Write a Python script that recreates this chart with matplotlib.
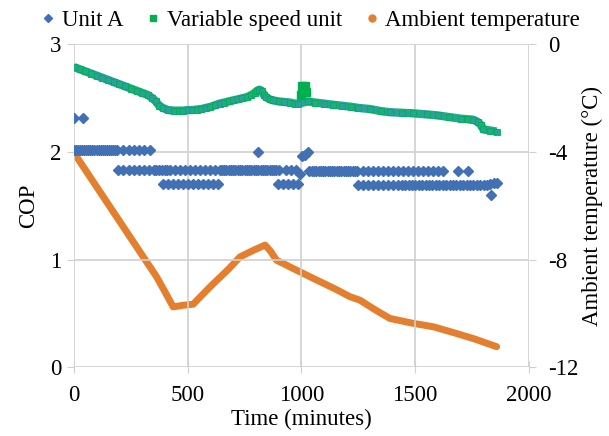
import numpy as np
import matplotlib
matplotlib.use('Agg')
import matplotlib.pyplot as plt
from matplotlib.lines import Line2D

plt.rcParams['font.family'] = ['Liberation Serif', 'DejaVu Serif']
plt.rcParams['font.size'] = 16.5
plt.rcParams['axes.unicode_minus'] = False

ua_hi_t = [0, 9, 18, 27, 36, 45, 54, 63, 72, 81, 90, 99, 108, 117, 126, 135, 144,
           153, 162, 171, 180, 190, 217, 240, 262, 285, 308, 332]
ua_hi_cop = 2.02
ua_mid1_t = [195, 217, 240, 262, 285, 308, 330, 350, 362, 374, 386, 398, 410, 422,
             444, 466, 488, 510, 532, 554, 576, 598, 620, 640, 650, 660, 670, 680,
             690, 700, 710, 720, 730, 740, 750, 760, 770, 780, 790, 800, 810, 820,
             830, 840, 850, 860, 870, 880, 890, 900, 931, 953, 975]
ua_mid1_cop = 1.83
ua_low1_t = [391, 413, 435, 457, 479, 501, 523, 545, 567, 589, 611, 633,
             897, 919, 941, 963, 985]
ua_low1_cop = 1.70
ua_mid2_t = [1035, 1045, 1055, 1065, 1075, 1085, 1095, 1105, 1115, 1125, 1135, 1145,
             1155, 1165, 1175, 1185, 1195, 1205, 1215, 1225, 1235, 1245, 1272, 1294,
             1316, 1338, 1360, 1382, 1404, 1426, 1448, 1470, 1492, 1514, 1536, 1558,
             1580, 1602, 1624, 1688, 1732]
ua_mid2_cop = 1.82
ua_low2_t = [1250, 1272, 1294, 1316, 1338, 1360, 1382, 1404, 1426, 1441, 1456, 1471,
             1486, 1501, 1516, 1531, 1546, 1561, 1576, 1591, 1606, 1621, 1636, 1651,
             1666, 1681, 1696, 1711, 1726, 1741, 1756, 1771, 1786, 1801, 1816]
ua_low2_cop = 1.69
ua_extra_t = [0, 40, 809, 995, 1001, 1015, 1029, 1832, 1830, 1845, 1858]
ua_extra_cop = [2.32, 2.32, 2.00, 1.80, 1.96, 1.97, 2.00, 1.60, 1.70, 1.71, 1.71]

# Variable speed unit COP
vsu_t = [0, 25, 50, 75, 100, 125, 150, 175, 200, 225, 250, 275, 300, 325, 345, 360,
         375, 390, 413, 440, 460, 480, 500, 520, 540, 560, 580, 600, 620, 640, 660,
         680, 700, 720, 740, 760, 780, 795, 805, 815, 825, 835, 845, 860, 876, 900,
         925, 950, 970, 985, 1029, 1060, 1100, 1138, 1180, 1220, 1250, 1300, 1350,
         1389, 1440, 1490, 1550, 1600, 1650, 1700, 1730, 1755, 1775, 1790, 1800,
         1830, 1858]
vsu_cop = [2.79, 2.77, 2.75, 2.73, 2.71, 2.69, 2.67, 2.65, 2.63, 2.61, 2.59, 2.57,
           2.55, 2.53, 2.50, 2.47, 2.43, 2.41, 2.39, 2.385, 2.385, 2.385, 2.39, 2.39,
           2.395, 2.40, 2.41, 2.42, 2.435, 2.45, 2.46, 2.47, 2.48, 2.49, 2.50, 2.51,
           2.53, 2.55, 2.57, 2.58, 2.57, 2.53, 2.51, 2.49, 2.48, 2.47, 2.465, 2.46,
           2.45, 2.45, 2.47, 2.46, 2.45, 2.44, 2.43, 2.42, 2.41, 2.40, 2.38, 2.37,
           2.365, 2.36, 2.35, 2.34, 2.325, 2.31, 2.305, 2.30, 2.28, 2.25, 2.21,
           2.20, 2.19]
vsu_jump_t = [998, 1001, 1015, 1022]
vsu_jump_cop = [2.53, 2.61, 2.61, 2.56]

# Ambient temperature (deg C)
amb_t = [0, 100, 200, 300, 363, 400, 436, 480, 524, 600, 680, 730, 790, 840, 865,
         890, 963, 1052, 1150, 1213, 1257, 1330, 1389, 1490, 1580, 1682, 1760, 1858]
amb_temp = [-4.03, -5.30, -6.57, -7.84, -8.64, -9.2, -9.76, -9.7, -9.66, -9.0,
            -8.35, -7.9, -7.65, -7.46, -7.7, -8.02, -8.33, -8.7, -9.1, -9.38, -9.51,
            -9.9, -10.19, -10.37, -10.5, -10.75, -10.95, -11.24]

blue = '#4170b5'
green = '#00b050'
teal = '#26a594'
orange = '#e47f2f'
grid_c = '#d0d0d0'

fig = plt.figure(figsize=(6.09, 4.36), dpi=100)
ax = fig.add_axes([0.1215, 0.158, 0.747, 0.74])
ax2 = ax.twinx()

# unit A scatter
ua_t = ua_hi_t + ua_mid1_t + ua_low1_t + ua_mid2_t + ua_low2_t + ua_extra_t
ua_cop = ([ua_hi_cop] * len(ua_hi_t) + [ua_mid1_cop] * len(ua_mid1_t)
          + [ua_low1_cop] * len(ua_low1_t) + [ua_mid2_cop] * len(ua_mid2_t)
          + [ua_low2_cop] * len(ua_low2_t) + ua_extra_cop)
ax.plot(ua_t, ua_cop, linestyle='none', marker='D', ms=4.6, color=blue, zorder=3)

# variable speed unit
ax.plot(vsu_t, vsu_cop, color=teal, lw=6, solid_capstyle='butt', zorder=4)
ax.plot(vsu_t, vsu_cop, linestyle='none', marker='s', ms=5, mfc=teal, mec=green,
        mew=0.6, zorder=5)
ax.plot(vsu_jump_t, vsu_jump_cop, linestyle='none', marker='s', ms=5.5, color=green,
        zorder=5)

# ambient temperature
ax2.plot(amb_t, amb_temp, color=orange, lw=5, solid_capstyle='round',
         solid_joinstyle='round', zorder=3)

ax.set_xlim(0, 2000)
ax.set_ylim(0, 3)
ax2.set_ylim(-12, 0)
ax.set_xticks([0, 500, 1000, 1500, 2000])
ax.set_yticks([0, 1, 2, 3])
ax2.set_yticks([0, -4, -8, -12])

ax.grid(True, color=grid_c, lw=1.2)
ax.set_axisbelow(True)
for a in (ax, ax2):
    for s in a.spines.values():
        s.set_visible(False)
ax.set_zorder(ax2.get_zorder() + 1)
ax.patch.set_visible(False)

ax.tick_params(axis='x', direction='inout', length=8, color=grid_c, pad=9)
ax.tick_params(axis='y', direction='out', length=5, color=grid_c, pad=4)
ax2.tick_params(axis='y', direction='out', length=5, color=grid_c, pad=9)

ax.set_xlabel('Time (minutes)', labelpad=2)
ax.set_ylabel('COP', labelpad=8)
ax2.set_ylabel('Ambient temperature (°C)', labelpad=2)

handles = [Line2D([], [], linestyle='none', marker='D', ms=4, color=blue),
           Line2D([], [], linestyle='none', marker='s', ms=5, color=green),
           Line2D([], [], linestyle='none', marker='o', ms=5, color=orange)]
fig.legend(handles, ['Unit A', 'Variable speed unit', 'Ambient temperature'],
           loc='center', bbox_to_anchor=(0.51, 0.953), ncol=3, frameon=False,
           handlelength=0.6, handletextpad=0.3, columnspacing=1.0,
           borderaxespad=0)

fig.savefig('out.png', dpi=100)
